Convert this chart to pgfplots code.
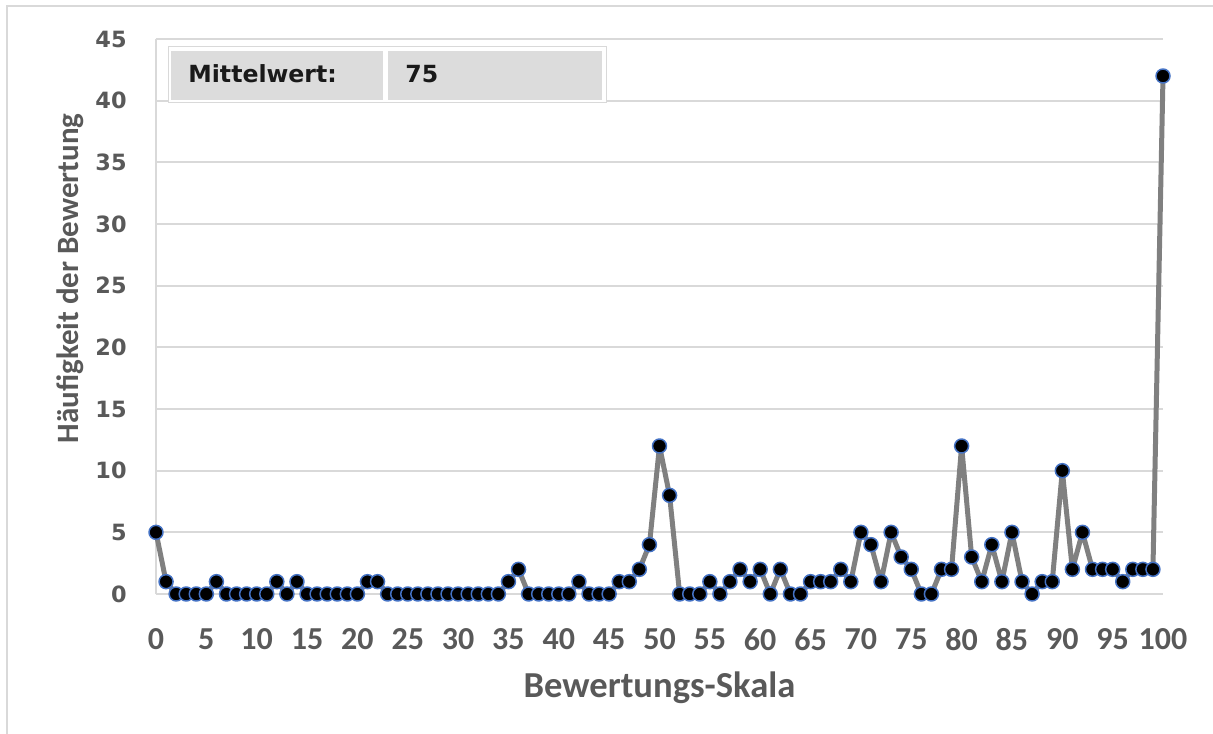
\documentclass[border=0pt]{standalone}
\usepackage{pgfplots}
\pgfplotsset{compat=1.18}
\usepackage{fontspec}
\setmainfont{Carlito}
\newfontfamily\tickfont{DejaVu Sans}
\definecolor{txtgray}{HTML}{595959}
\definecolor{gridgray}{HTML}{D9D9D9}
\definecolor{linegray}{HTML}{808080}
\definecolor{mkblue}{HTML}{4472C4}
\definecolor{cellgray}{HTML}{DCDCDC}
\begin{document}
\begin{tikzpicture}
\path[use as bounding box] (-78pt,-69.5pt) rectangle (528.5pt,297pt);
\draw[gridgray, line width=0.6pt] (-74.5pt,-80pt) -- (-74.5pt,294pt) -- (540pt,294pt);
\begin{axis}[
  at={(0,0)}, anchor=south west,
  scale only axis, width=503.5pt, height=277.5pt,
  xmin=0, xmax=100, ymin=0, ymax=45,
  xtick={0,5,...,100}, ytick={0,5,...,45},
  axis lines*=left,
  axis line style={draw=gridgray, line width=0.9pt},
  ymajorgrids, grid style={draw=gridgray, line width=0.9pt},
  major tick length=0pt,
  clip=false,
  /pgf/number format/assume math mode=true,
  xticklabel style={font=\fontsize{16}{18}\selectfont\bfseries, text=txtgray, anchor=north, inner sep=0pt, yshift=-17pt},
  yticklabel style={font=\tickfont\fontsize{11.2}{13}\selectfont\bfseries, text=txtgray, anchor=east, inner sep=0pt, xshift=-14.5pt},
  xlabel={Bewertungs-Skala},
  ylabel={Häufigkeit der Bewertung},
  xlabel style={font=\fontsize{18.3}{22}\selectfont\bfseries, text=txtgray, at={(axis description cs:0.5,0)}, anchor=base, yshift=-51.5pt},
  ylabel style={font=\fontsize{15.5}{19}\selectfont\bfseries, text=txtgray, at={([xshift=-43pt,yshift=19pt]axis description cs:0,0.5)}, anchor=center},
]
\addplot[linegray, line width=2.5pt, line join=round, mark=*, mark size=3.5pt,
  mark options={fill=black, draw=mkblue, line width=0.75pt}] table {
x y
0 5
1 1
2 0
3 0
4 0
5 0
6 1
7 0
8 0
9 0
10 0
11 0
12 1
13 0
14 1
15 0
16 0
17 0
18 0
19 0
20 0
21 1
22 1
23 0
24 0
25 0
26 0
27 0
28 0
29 0
30 0
31 0
32 0
33 0
34 0
35 1
36 2
37 0
38 0
39 0
40 0
41 0
42 1
43 0
44 0
45 0
46 1
47 1
48 2
49 4
50 12
51 8
52 0
53 0
54 0
55 1
56 0
57 1
58 2
59 1
60 2
61 0
62 2
63 0
64 0
65 1
66 1
67 1
68 2
69 1
70 5
71 4
72 1
73 5
74 3
75 2
76 0
77 0
78 2
79 2
80 12
81 3
82 1
83 4
84 1
85 5
86 1
87 0
88 1
89 1
90 10
91 2
92 5
93 2
94 2
95 2
96 1
97 2
98 2
99 2
100 42
};
\end{axis}
% Mittelwert box
\fill[white] (6pt,245.5pt) rectangle (225pt,273.5pt);
\draw[gridgray, line width=0.5pt] (6pt,245.5pt) rectangle (225pt,273.5pt);
\fill[cellgray] (7.5pt,247pt) rectangle (113.5pt,271.5pt);
\fill[cellgray] (116pt,247pt) rectangle (223pt,271.5pt);
\node[anchor=base west, inner sep=0pt, text=black!90, font=\tickfont\fontsize{11.8}{13}\selectfont\bfseries] at (16pt,255.5pt) {Mittelwert:};
\node[anchor=base west, inner sep=0pt, text=black!90, font=\tickfont\fontsize{11.8}{13}\selectfont\bfseries] at (124.5pt,255.5pt) {75};
\end{tikzpicture}
\end{document}
